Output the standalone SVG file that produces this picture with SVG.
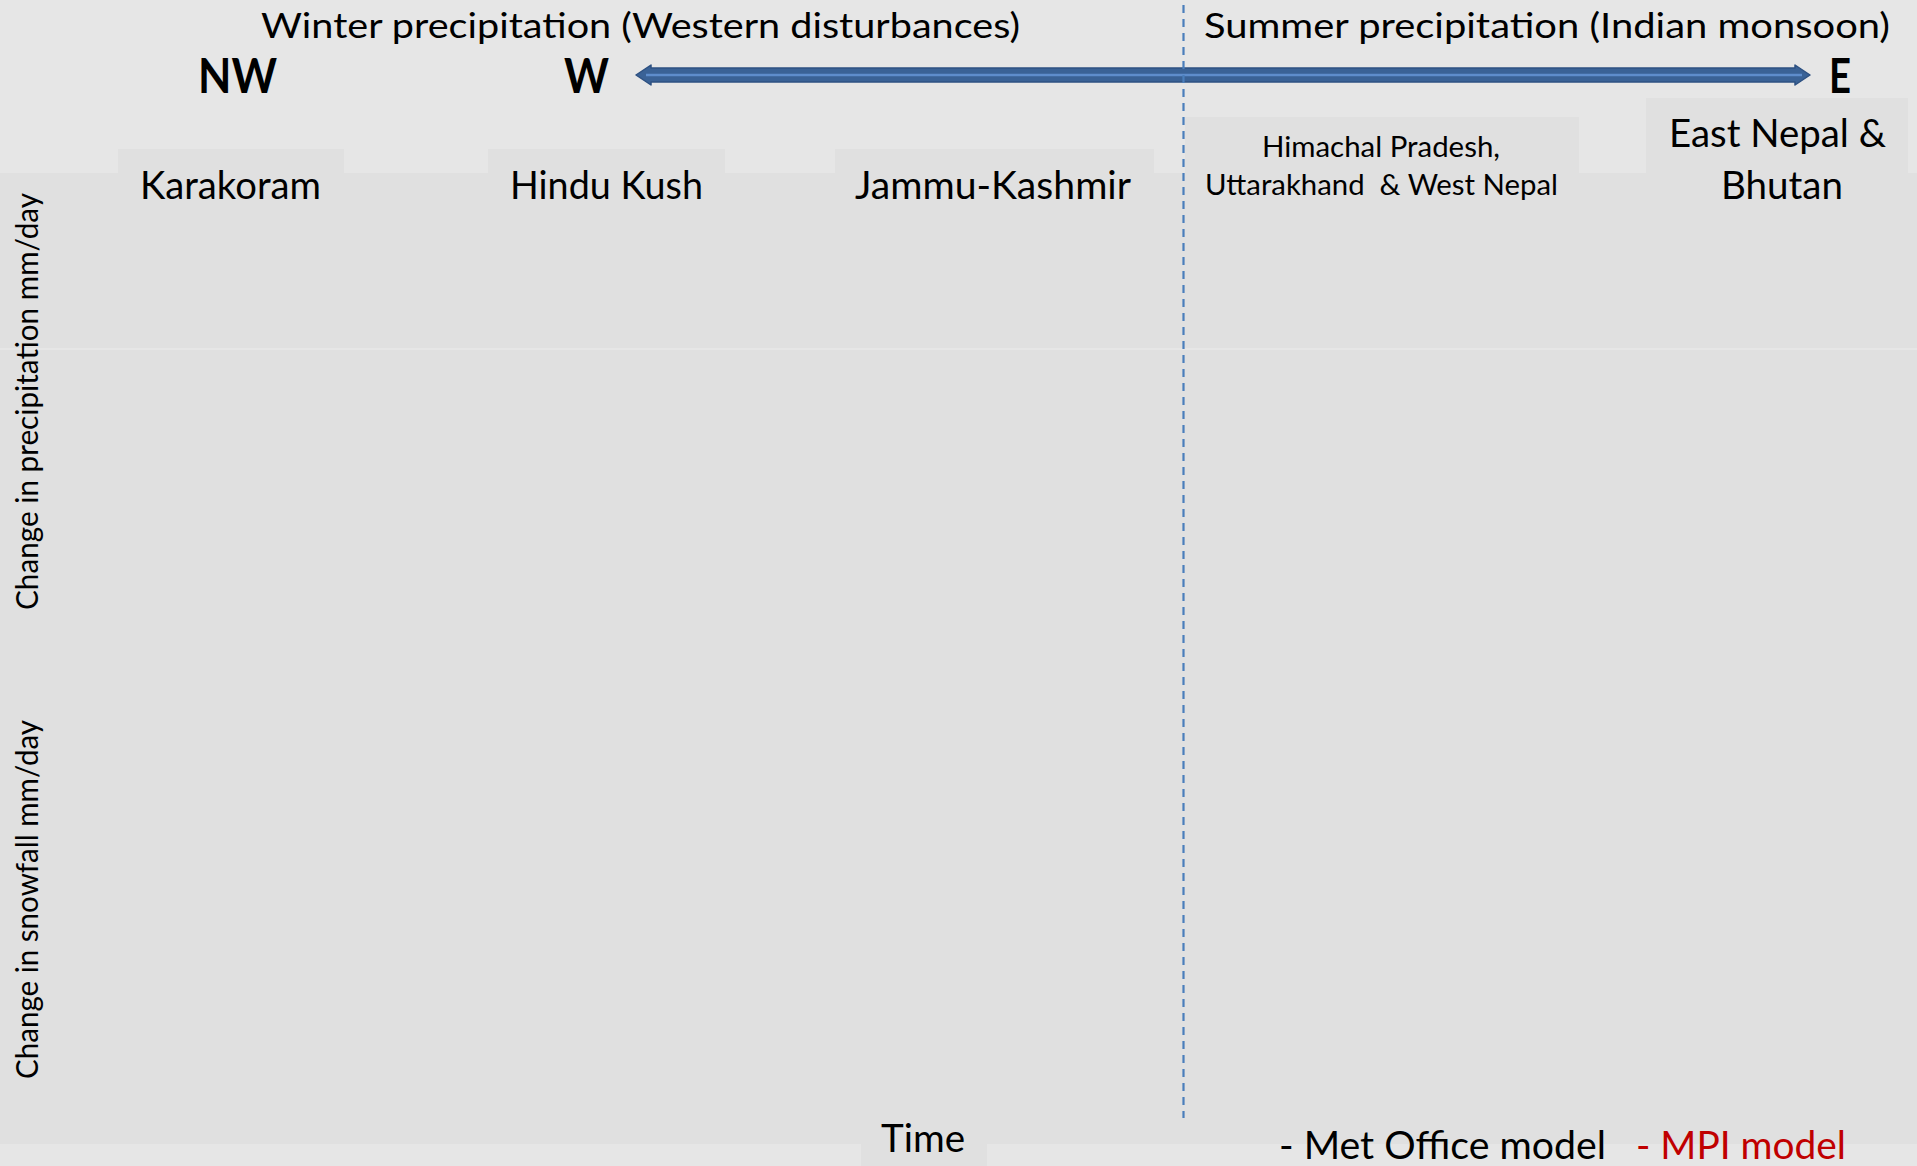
<svg xmlns="http://www.w3.org/2000/svg" width="1917" height="1166" viewBox="0 0 1917 1166">
<style>
.t{font-family:Lato,"Open Sans","Liberation Sans",sans-serif;fill:#000;}
.title{font-size:35px;}
.dir{font-size:47px;font-weight:bold;}
.reg{font-size:39px;}
.reg2{font-size:28px;}
.ax{font-size:31px;}
.box{fill:#e0e0e0;}
</style>
<rect x="0" y="0" width="1917" height="1166" fill="#e6e6e6"/>
<g id="panel">
<rect class="box" x="0" y="173" width="1917" height="971"/>
<line x1="0" y1="349" x2="1917" y2="349" stroke="#e8e8e8" stroke-width="1.5"/>
</g>
<g id="title-winter"><text class="t title" x="261" y="38" textLength="759" lengthAdjust="spacingAndGlyphs">Winter precipitation (Western disturbances)</text></g>
<g id="title-summer"><text class="t title" x="1204" y="38" textLength="686" lengthAdjust="spacingAndGlyphs">Summer precipitation (Indian monsoon)</text></g>
<g id="dir-nw"><text class="t dir" x="198" y="93" textLength="79" lengthAdjust="spacingAndGlyphs">NW</text></g>
<g id="dir-w"><text class="t dir" x="564" y="93" textLength="45" lengthAdjust="spacingAndGlyphs">W</text></g>
<g id="dir-e"><text class="t dir" x="1829" y="93" textLength="22" lengthAdjust="spacingAndGlyphs">E</text></g>
<g id="connectors">
<polygon points="636,75 651,65 651,68 1795,68 1795,65 1810,75 1795,85 1795,82 651,82 651,85" fill="#3A6296" stroke="#2E5182" stroke-width="1.5" stroke-linejoin="round"/>
<line x1="646" y1="75" x2="1802" y2="75" stroke="#5E8DCC" stroke-width="2.5"/>
<line x1="1183.5" y1="5" x2="1183.5" y2="1118" stroke="#4A7EBB" stroke-width="2.2" stroke-dasharray="8 6"/>
</g>
<g id="karakoram">
<rect class="box" x="118" y="149" width="226" height="30"/>
<text class="t reg" x="140" y="199" textLength="181" lengthAdjust="spacingAndGlyphs">Karakoram</text>
</g>
<g id="hindu-kush">
<rect class="box" x="488" y="149" width="237" height="30"/>
<text class="t reg" x="510" y="199" textLength="193" lengthAdjust="spacingAndGlyphs">Hindu Kush</text>
</g>
<g id="jammu-kashmir">
<rect class="box" x="835" y="149" width="319" height="30"/>
<text class="t reg" x="855" y="199" textLength="276" lengthAdjust="spacingAndGlyphs">Jammu-Kashmir</text>
</g>
<g id="himachal">
<rect class="box" x="1185" y="117" width="394" height="60"/>
<text class="t reg2" x="1262" y="157" textLength="238" lengthAdjust="spacingAndGlyphs">Himachal Pradesh,</text>
<text class="t reg2" x="1205" y="195" textLength="353" lengthAdjust="spacingAndGlyphs" xml:space="preserve">Uttarakhand  &amp; West Nepal</text>
</g>
<g id="east-nepal">
<rect class="box" x="1646" y="98" width="262" height="80"/>
<text class="t reg" x="1669" y="147" textLength="217" lengthAdjust="spacingAndGlyphs">East Nepal &amp;</text>
<text class="t reg" x="1721" y="199" textLength="122" lengthAdjust="spacingAndGlyphs">Bhutan</text>
</g>
<g id="axis-precip"><text class="t ax" transform="translate(38,610) rotate(-90)" x="0" y="0" textLength="417" lengthAdjust="spacingAndGlyphs">Change in precipitation mm/day</text></g>
<g id="axis-snow"><text class="t ax" transform="translate(38,1079) rotate(-90)" x="0" y="0" textLength="359" lengthAdjust="spacingAndGlyphs">Change in snowfall mm/day</text></g>
<g id="time">
<rect class="box" x="861" y="1140" width="126" height="26"/>
<text class="t reg" x="881" y="1152" textLength="84" lengthAdjust="spacingAndGlyphs">Time</text>
</g>
<g id="legend">
<text class="t reg" x="1279" y="1159" textLength="327" lengthAdjust="spacingAndGlyphs">- Met Office model</text>
<text class="t reg" x="1636" y="1159" textLength="210" lengthAdjust="spacingAndGlyphs" style="fill:#C00000">- MPI model</text>
</g>
</svg>
